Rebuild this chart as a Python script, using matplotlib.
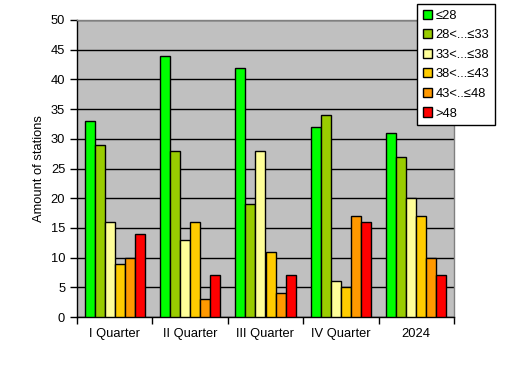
import matplotlib
matplotlib.use("Agg")
import matplotlib.pyplot as plt
import numpy as np

plt.rcParams['font.family'] = ['Liberation Sans', 'DejaVu Sans']

categories = ["I Quarter", "II Quarter", "III Quarter", "IV Quarter", "2024"]
series_names = ["≤28", "28<...≤33", "33<...≤38", "38<...≤43", "43<..≤48", ">48"]
values = [
    [33, 44, 42, 32, 31],
    [29, 28, 19, 34, 27],
    [16, 13, 28, 6, 20],
    [9, 16, 11, 5, 17],
    [10, 3, 4, 17, 10],
    [14, 7, 7, 16, 7],
]
colors = ["#00FF00", "#99CC00", "#FFFF99", "#FFCC00", "#FF9900", "#FF0000"]

fig = plt.figure(figsize=(5.3, 3.8), dpi=100)
ax = fig.add_axes([77/530, 1-317/380, (454-77)/530, (317-20)/380])
ax.set_facecolor("#C0C0C0")

x = np.arange(len(categories))
w = 1/7.5
n = len(series_names)
for i in range(n):
    ax.bar(x + (i - (n-1)/2)*w, values[i], width=w, color=colors[i],
           edgecolor="black", linewidth=1, label=series_names[i], zorder=3)

ax.set_xlim(-0.5, len(categories)-0.5)
ax.set_ylim(0, 50)
ax.set_yticks(np.arange(0, 51, 5))
ax.yaxis.grid(True, color="black", linewidth=1, zorder=1)
ax.set_axisbelow(True)
ax.set_xticks(np.arange(-0.5, len(categories), 1))
ax.set_xticklabels([])
ax.set_xticks(x, minor=True)
ax.set_xticklabels(categories, minor=True)
ax.tick_params(axis='x', which='minor', length=0, pad=8, labelsize=9.3)
ax.tick_params(axis='x', which='major', direction='out', length=5, width=1)
ax.tick_params(axis='y', direction='out', length=5, width=1, labelsize=9.3)
ax.set_ylabel("Amount of stations", fontsize=9.3)

for s in ['left', 'bottom']:
    ax.spines[s].set_color("black")
    ax.spines[s].set_linewidth(1)
for s in ['top', 'right']:
    ax.spines[s].set_color("#808080")
    ax.spines[s].set_linewidth(1)

leg = fig.legend(loc='upper left', bbox_to_anchor=(417/530, 1-4/380),
                 bbox_transform=fig.transFigure, fontsize=9.3,
                 frameon=True, fancybox=False, edgecolor="black",
                 handlelength=0.7, handleheight=0.7, handletextpad=0.3,
                 labelspacing=0.58, borderpad=0.45, borderaxespad=0)
leg.get_frame().set_linewidth(1)
leg.get_frame().set_facecolor("white")
leg.get_frame().set_alpha(1)

fig.savefig("out.png", dpi=100)
